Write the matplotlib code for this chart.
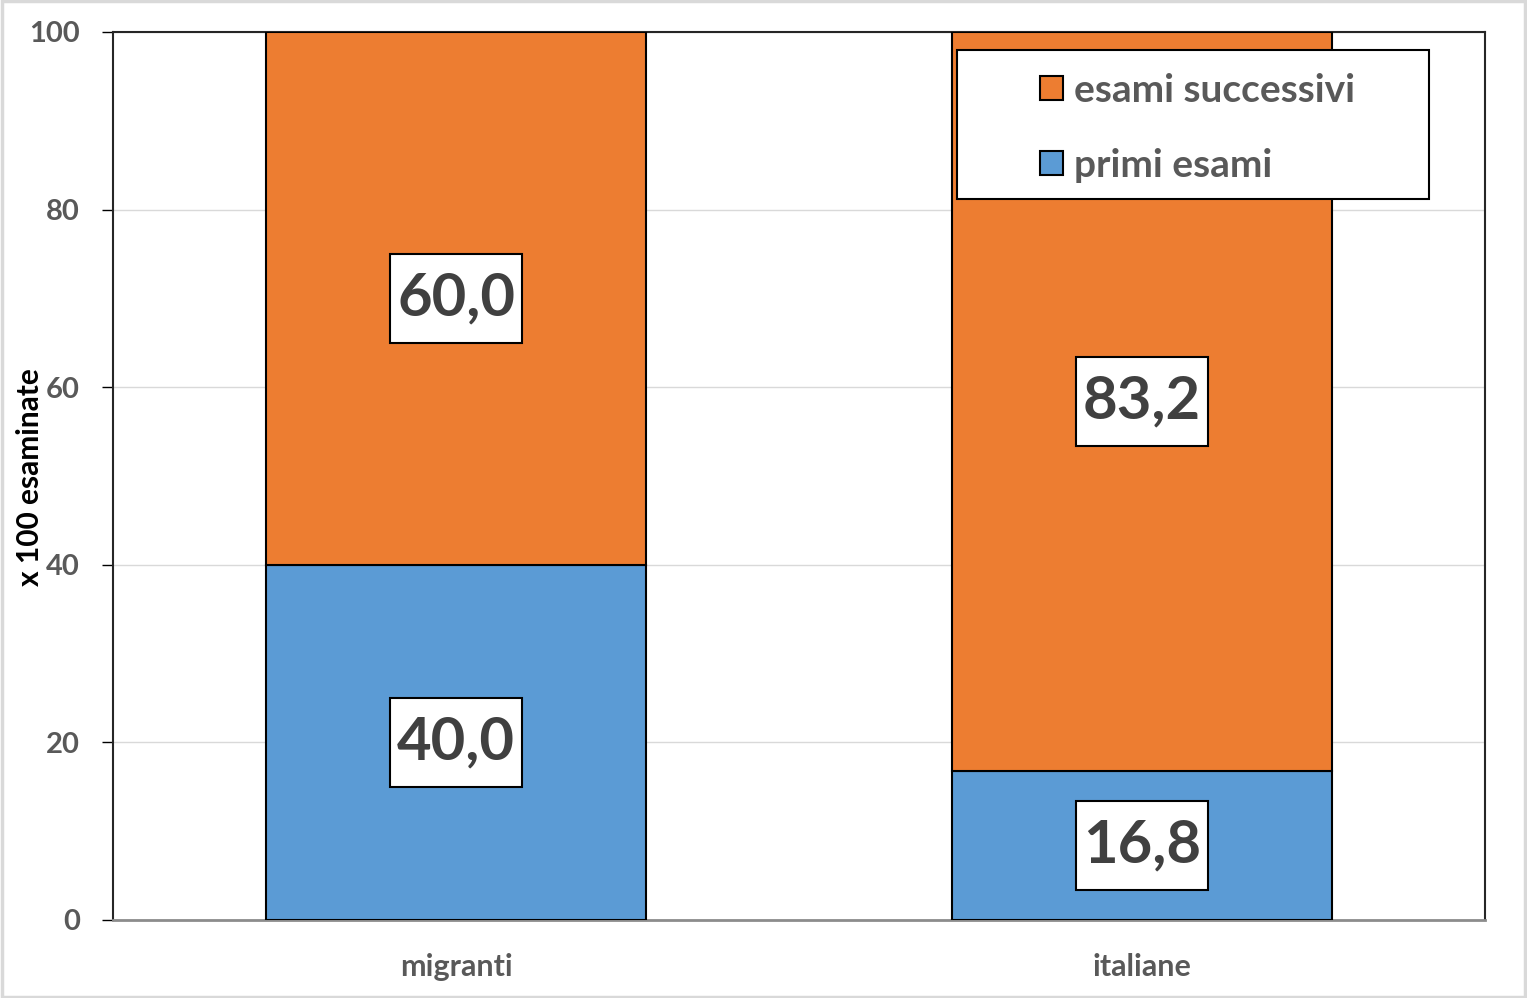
import numpy as np
import matplotlib
matplotlib.use('Agg')
import matplotlib.pyplot as plt
from matplotlib.patches import Rectangle, Patch
from matplotlib.path import Path

plt.rcParams['font.family'] = ['Lato', 'DejaVu Sans']
plt.rcParams['font.weight'] = 'bold'

# dati
categorie = ['migranti', 'italiane']
primi_esami = [40.0, 16.8]
esami_successivi = [60.0, 83.2]
yticks = [0, 20, 40, 60, 80, 100]

col_blu = '#5B9BD5'
col_arancio = '#ED7D31'
grigio_testo = '#595959'


def riquadro(x0, y0, width, height, mutation_size):
    # riquadro rettangolare con piu margine in verticale
    px = 0.12 * mutation_size
    py = 0.29 * mutation_size
    return Path.unit_rectangle().transformed(
        matplotlib.transforms.Affine2D().scale(width + 2 * px, height + 2 * py)
        .translate(x0 - px, y0 - py))


fig = plt.figure(figsize=(15.27, 9.98), dpi=100)
ax = fig.add_axes([113 / 1527, 1 - 920 / 998, 1372 / 1527, 888 / 998])

x = np.arange(len(categorie))
larg = 0.555
ax.bar(x, primi_esami, larg, color=col_blu, edgecolor='black', linewidth=1.5, zorder=3)
ax.bar(x, esami_successivi, larg, bottom=primi_esami, color=col_arancio,
       edgecolor='black', linewidth=1.5, zorder=3)

# etichette dei valori
box = dict(boxstyle=riquadro, facecolor='white', edgecolor='black', linewidth=1.5)
for i in range(len(categorie)):
    ax.text(x[i], primi_esami[i] / 2, f'{primi_esami[i]:.1f}'.replace('.', ','),
            ha='center', va='center', fontsize=43, color='#404040',
            fontweight='bold', bbox=box, zorder=5)
    ax.text(x[i], primi_esami[i] + esami_successivi[i] / 2,
            f'{esami_successivi[i]:.1f}'.replace('.', ','),
            ha='center', va='center', fontsize=43, color='#404040',
            fontweight='bold', bbox=box, zorder=5)

ax.set_xlim(-0.5, 1.5)
ax.set_ylim(0, 100)
ax.set_yticks(yticks)
ax.set_xticks(x)
ax.set_xticklabels(categorie, fontweight='bold')
ax.set_yticklabels([str(v) for v in yticks], fontweight='bold')
ax.tick_params(axis='x', length=0, pad=24, labelsize=22, labelcolor=grigio_testo)
ax.tick_params(axis='y', length=8, width=1, color='black', pad=16, labelsize=21,
               labelcolor=grigio_testo)
ax.grid(axis='y', color='#d9d9d9', linewidth=1, zorder=0)
ax.set_axisbelow(True)

# etichetta asse y
fig.text(30 / 1527, 1 - 477 / 998, 'x 100 esaminate', rotation=90, ha='center', va='center',
         fontsize=21.5, fontweight='bold', color='black')

for s in ['left', 'top', 'right']:
    ax.spines[s].set_color('#262626')
    ax.spines[s].set_linewidth(1.5)
ax.spines['bottom'].set_color('#8c8c8c')
ax.spines['bottom'].set_linewidth(2)

# legenda
ax.add_patch(Rectangle((0.615, 0.812), 0.344, 0.168, transform=ax.transAxes,
                       facecolor='white', edgecolor='black', linewidth=1.5, zorder=6))
maniglie = [Patch(facecolor=col_arancio, edgecolor='black', linewidth=1.5),
            Patch(facecolor=col_blu, edgecolor='black', linewidth=1.5)]
leg = ax.legend(maniglie, ['esami successivi', 'primi esami'], loc='center left',
                bbox_to_anchor=(0.676, 0.892), frameon=False, fontsize=28,
                borderpad=0, borderaxespad=0,
                handlelength=0.57, handleheight=0.57, handletextpad=0.3,
                labelspacing=1.03, labelcolor=grigio_testo)
for t in leg.get_texts():
    t.set_fontweight('bold')
leg.set_zorder(7)

fig.add_artist(Rectangle((0.001, 0.001), 0.998, 0.998, transform=fig.transFigure,
                         fill=False, edgecolor='#d9d9d9', linewidth=2.5))

fig.savefig('out.png', dpi=100)
